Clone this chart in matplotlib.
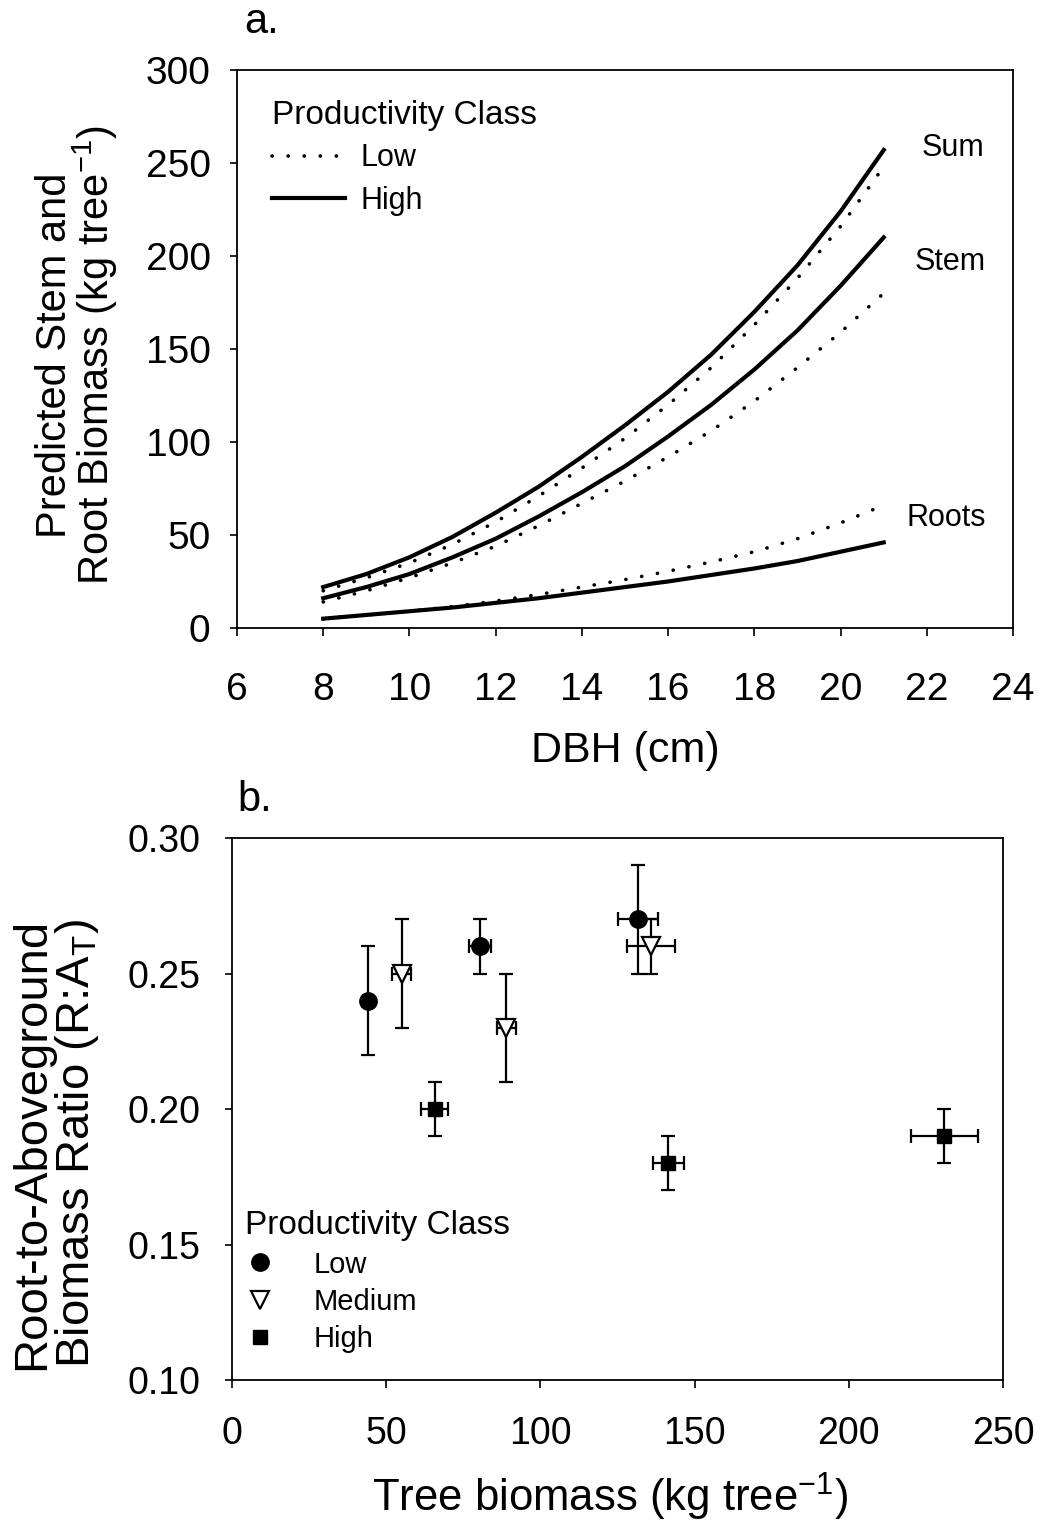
import matplotlib
matplotlib.use("Agg")
import matplotlib.pyplot as plt

plt.rcParams['font.family'] = ['Liberation Sans', 'DejaVu Sans']
plt.rcParams['mathtext.fontset'] = 'custom'
plt.rcParams['mathtext.rm'] = 'Liberation Sans'
plt.rcParams['mathtext.default'] = 'regular'

# panel a: predicted biomass by DBH
dbh = [8, 9, 10, 11, 12, 13, 14, 15, 16, 17, 18, 19, 20, 21]
high_sum = [22, 29, 38, 49, 62, 76, 92, 109, 127, 147, 170, 195, 224, 257]
low_sum = [20, 27, 35, 45, 57, 71, 86, 102, 120, 140, 163, 188, 216, 248]
high_stem = [16, 22, 29, 38, 48, 60, 73, 87, 103, 120, 139, 160, 184, 210]
low_stem = [14, 20, 27, 35, 44, 55, 67, 79, 92, 106, 122, 140, 159, 180]
high_roots = [5, 7, 9, 11, 13.5, 16, 19, 22, 25, 28.5, 32, 36, 41, 46]
low_roots = [5, 7, 9, 11.5, 14.5, 18, 22, 26, 30.5, 35.5, 41, 48, 56.5, 66]

# panel b: root-to-aboveground ratio vs tree biomass
low_x = [44, 80.5, 131.5]
low_y = [0.24, 0.26, 0.27]
low_xerr = [1.5, 3.5, 6.5]
low_yerr = [0.02, 0.01, 0.02]

med_x = [55, 89, 136]
med_y = [0.25, 0.23, 0.26]
med_xerr = [3, 3.2, 7.8]
med_yerr = [0.02, 0.02, 0.01]

high_x = [65.8, 141.5, 231]
high_y = [0.20, 0.18, 0.19]
high_xerr = [4.4, 5, 10.8]
high_yerr = [0.01, 0.01, 0.01]

fig = plt.figure(figsize=(10.38, 15.22), dpi=100)
ax1 = fig.add_axes([0.2283, 0.5874, 0.7477, 0.3666])
ax2 = fig.add_axes([0.2235, 0.0933, 0.7428, 0.3561])

dot = dict(color='black', lw=2.6, linestyle=(0, (0.05, 4.4)), dash_capstyle='round')
solid = dict(color='black', lw=3.0)

ax1.plot(dbh, low_sum, label='Low', **dot)
ax1.plot(dbh, high_sum, label='High', **solid)
ax1.plot(dbh, low_stem, **dot)
ax1.plot(dbh, high_stem, **solid)
ax1.plot(dbh, low_roots, **dot)
ax1.plot(dbh, high_roots, **solid)

ax1.text(22.6, 258, 'Sum', fontsize=22, ha='center', va='center')
ax1.text(22.55, 197, 'Stem', fontsize=22, ha='center', va='center')
ax1.text(22.45, 59, 'Roots', fontsize=22, ha='center', va='center')

ax1.set_xlim(6, 24)
ax1.set_ylim(0, 300)
ax1.set_xticks(range(6, 25, 2))
ax1.set_yticks(range(0, 301, 50))
ax1.tick_params(axis='x', direction='out', length=6, width=1.2, labelsize=28, pad=26)
ax1.tick_params(axis='y', direction='out', length=5, width=1.2, labelsize=28, pad=14)
for s in ax1.spines.values():
    s.set_linewidth(1.3)

leg1 = ax1.legend(loc='upper left', bbox_to_anchor=(0.045, 0.946), frameon=False,
                  title='Productivity Class', title_fontsize=24, fontsize=22,
                  handlelength=2.4, handletextpad=0.5, labelspacing=0.4,
                  borderaxespad=0, borderpad=0, alignment='left')

ax1.set_xlabel('DBH (cm)', fontsize=31)
ax1.xaxis.set_label_coords(0.5, -0.185)

ekw = dict(color='black', elinewidth=1.6, capsize=5, capthick=1.6, linestyle='none')
ax2.errorbar(low_x, low_y, xerr=low_xerr, yerr=low_yerr, fmt='o', ms=12.5,
             mfc='black', mec='black', label='Low', **ekw)
ax2.errorbar(med_x, med_y, xerr=med_xerr, yerr=med_yerr, fmt='v', ms=12.5,
             mfc='white', mec='black', mew=1.6, label='Medium', **ekw)
ax2.errorbar(high_x, high_y, xerr=high_xerr, yerr=high_yerr, fmt='s', ms=10.5,
             mfc='black', mec='black', label='High', **ekw)

ax2.set_xlim(0, 250)
ax2.set_ylim(0.10, 0.30)
ax2.set_xticks(range(0, 251, 50))
ax2.set_yticks([0.10, 0.15, 0.20, 0.25, 0.30])
ax2.set_yticklabels(['0.10', '0.15', '0.20', '0.25', '0.30'])
ax2.tick_params(axis='x', direction='out', length=6, width=1.2, labelsize=27, pad=20)
ax2.tick_params(axis='y', direction='out', length=5, width=1.2, labelsize=27, pad=18)
for s in ax2.spines.values():
    s.set_linewidth(1.3)

handles, labels = ax2.get_legend_handles_labels()
handles = [h[0] for h in handles]
leg2 = ax2.legend(handles, labels, loc='upper left', bbox_to_anchor=(0.017, 0.313),
                  frameon=False, title='Productivity Class', title_fontsize=24,
                  fontsize=21, handlelength=1.0, handletextpad=1.35, labelspacing=0.32,
                  borderaxespad=0, borderpad=0, alignment='left')

ax2.set_xlabel('Tree biomass (kg tree$^{-1}$)', fontsize=31.5)
ax2.xaxis.set_label_coords(0.49, -0.167)

fig.text(0.0745, 0.7668, 'Predicted Stem and\nRoot Biomass (kg tree$^{-1}$)',
         rotation=90, ha='center', va='center', fontsize=30, linespacing=0.88)
fig.text(0.0535, 0.2484, 'Root-to-Aboveground\nBiomass Ratio (R:A$_{T}$)',
         rotation=90, ha='center', va='center', fontsize=34, linespacing=0.95)

fig.text(0.2524, 0.9855, 'a.', fontsize=30, ha='center', va='center')
fig.text(0.2455, 0.4744, 'b.', fontsize=30, ha='center', va='center')

fig.savefig('out.png', dpi=100)
